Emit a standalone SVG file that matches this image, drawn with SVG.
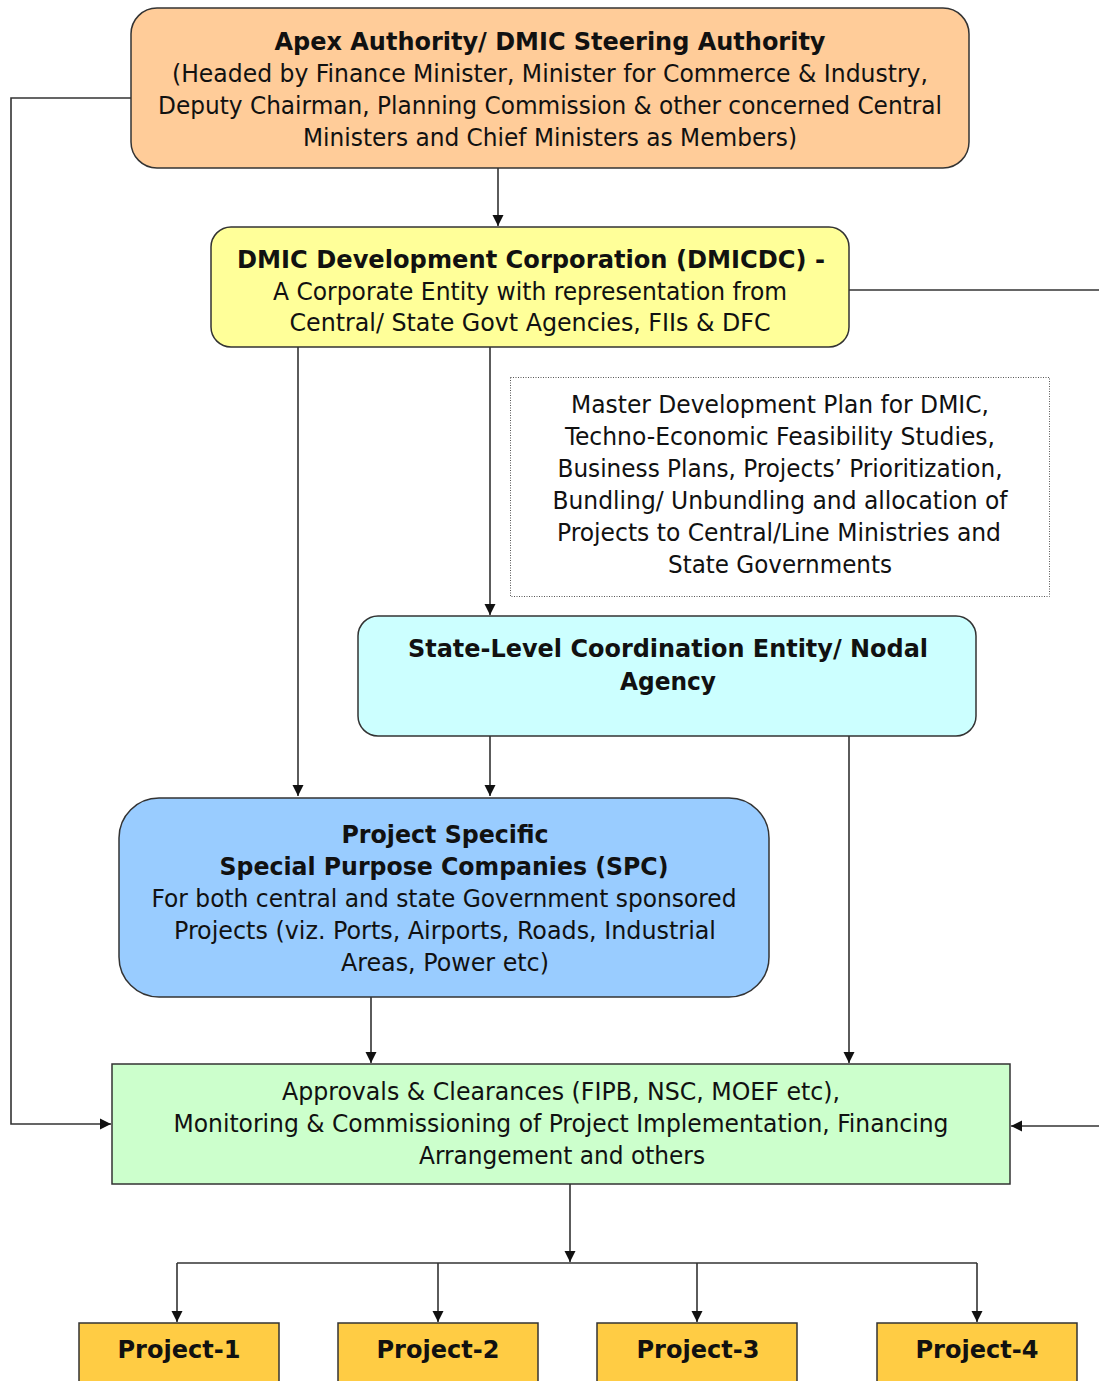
<svg xmlns="http://www.w3.org/2000/svg" width="1099" height="1381" viewBox="0 0 1099 1381">
<defs>
<marker id="ah" markerWidth="12" markerHeight="12" refX="11" refY="6" orient="auto" markerUnits="userSpaceOnUse">
<path d="M0,0.5 L11,6 L0,11.5 Z" fill="#111"/>
</marker>
<style>
.t{font-family:"DejaVu Sans Condensed","DejaVu Sans",Verdana,sans-serif;font-size:25px;fill:#111;text-anchor:middle}
.b{font-weight:bold}
.box{stroke:#333;stroke-width:1.5}
.c{fill:none;stroke:#333;stroke-width:1.6}
.ca{fill:none;stroke:#333;stroke-width:1.6;marker-end:url(#ah)}
</style>
</defs>
<rect width="1099" height="1381" fill="#fff"/>
<g id="connectors">
<path class="ca" d="M131,98 H11 V1124 H111"/>
<path class="c" d="M849,290 H1099"/>
<path class="ca" d="M1099,1126 H1011"/>
<path class="ca" d="M498,168 V226"/>
<path class="ca" d="M298,347 V796"/>
<path class="ca" d="M490,347 V615"/>
<path class="ca" d="M490,736 V796"/>
<path class="ca" d="M849,736 V1063"/>
<path class="ca" d="M371,997 V1063"/>
<path class="ca" d="M570,1184 V1262"/>
<path class="c" d="M177,1263 H977"/>
<path class="ca" d="M177,1263 V1322"/>
<path class="ca" d="M438,1263 V1322"/>
<path class="ca" d="M697,1263 V1322"/>
<path class="ca" d="M977,1263 V1322"/>
</g>
<g id="apex">
<rect class="box" x="131" y="8" width="838" height="160" rx="26" fill="#FFCC99"/>
<text class="t b" x="550" y="50" textLength="551" lengthAdjust="spacingAndGlyphs">Apex Authority/ DMIC Steering Authority</text>
<text class="t" x="550" y="82" textLength="756" lengthAdjust="spacingAndGlyphs">(Headed by Finance Minister, Minister for Commerce &amp; Industry,</text>
<text class="t" x="550" y="114" textLength="784" lengthAdjust="spacingAndGlyphs">Deputy Chairman, Planning Commission &amp; other concerned Central</text>
<text class="t" x="550" y="146" textLength="494" lengthAdjust="spacingAndGlyphs">Ministers and Chief Ministers as Members)</text>
</g>
<g id="dmicdc">
<rect class="box" x="211" y="227" width="638" height="120" rx="20" fill="#FFFF99"/>
<text class="t b" x="531" y="268" textLength="588" lengthAdjust="spacingAndGlyphs">DMIC Development Corporation (DMICDC) -</text>
<text class="t" x="530" y="300" textLength="514" lengthAdjust="spacingAndGlyphs">A Corporate Entity with representation from</text>
<text class="t" x="530" y="331" textLength="481" lengthAdjust="spacingAndGlyphs">Central/ State Govt Agencies, FIIs &amp; DFC</text>
</g>
<g id="note">
<rect x="510.5" y="377.5" width="539" height="219" fill="none" stroke="#555" stroke-width="1" stroke-dasharray="1,1.5"/>
<text class="t" x="780" y="413" textLength="418" lengthAdjust="spacingAndGlyphs">Master Development Plan for DMIC,</text>
<text class="t" x="780" y="445" textLength="430" lengthAdjust="spacingAndGlyphs">Techno-Economic Feasibility Studies,</text>
<text class="t" x="780" y="477" textLength="445" lengthAdjust="spacingAndGlyphs">Business Plans, Projects’ Prioritization,</text>
<text class="t" x="780" y="509" textLength="455" lengthAdjust="spacingAndGlyphs">Bundling/ Unbundling and allocation of</text>
<text class="t" x="779" y="541" textLength="444" lengthAdjust="spacingAndGlyphs">Projects to Central/Line Ministries and</text>
<text class="t" x="780" y="573" textLength="224" lengthAdjust="spacingAndGlyphs">State Governments</text>
</g>
<g id="state">
<rect class="box" x="358" y="616" width="618" height="120" rx="20" fill="#CCFFFF"/>
<text class="t b" x="668" y="657" textLength="520" lengthAdjust="spacingAndGlyphs">State-Level Coordination Entity/ Nodal</text>
<text class="t b" x="668" y="690" textLength="96" lengthAdjust="spacingAndGlyphs">Agency</text>
</g>
<g id="spc">
<rect class="box" x="119" y="798" width="650" height="199" rx="40" fill="#99CCFF"/>
<text class="t b" x="445" y="843" textLength="207" lengthAdjust="spacingAndGlyphs">Project Specific</text>
<text class="t b" x="444" y="875" textLength="449" lengthAdjust="spacingAndGlyphs">Special Purpose Companies (SPC)</text>
<text class="t" x="444" y="907" textLength="585" lengthAdjust="spacingAndGlyphs">For both central and state Government sponsored</text>
<text class="t" x="445" y="939" textLength="542" lengthAdjust="spacingAndGlyphs">Projects (viz. Ports, Airports, Roads, Industrial</text>
<text class="t" x="445" y="971" textLength="208" lengthAdjust="spacingAndGlyphs">Areas, Power etc)</text>
</g>
<g id="approvals">
<rect class="box" x="112" y="1064" width="898" height="120" fill="#CCFFCC"/>
<text class="t" x="561" y="1100" textLength="558" lengthAdjust="spacingAndGlyphs">Approvals &amp; Clearances (FIPB, NSC, MOEF etc),</text>
<text class="t" x="561" y="1132" textLength="775" lengthAdjust="spacingAndGlyphs">Monitoring &amp; Commissioning of Project Implementation, Financing</text>
<text class="t" x="562" y="1164" textLength="286" lengthAdjust="spacingAndGlyphs">Arrangement and others</text>
</g>
<g id="project1">
<rect class="box" x="79" y="1323" width="200" height="70" fill="#FFCC44"/>
<text class="t b" x="179" y="1358" textLength="123" lengthAdjust="spacingAndGlyphs">Project-1</text>
</g>
<g id="project2">
<rect class="box" x="338" y="1323" width="200" height="70" fill="#FFCC44"/>
<text class="t b" x="438" y="1358" textLength="123" lengthAdjust="spacingAndGlyphs">Project-2</text>
</g>
<g id="project3">
<rect class="box" x="597" y="1323" width="200" height="70" fill="#FFCC44"/>
<text class="t b" x="698" y="1358" textLength="123" lengthAdjust="spacingAndGlyphs">Project-3</text>
</g>
<g id="project4">
<rect class="box" x="877" y="1323" width="200" height="70" fill="#FFCC44"/>
<text class="t b" x="977" y="1358" textLength="123" lengthAdjust="spacingAndGlyphs">Project-4</text>
</g>
</svg>
